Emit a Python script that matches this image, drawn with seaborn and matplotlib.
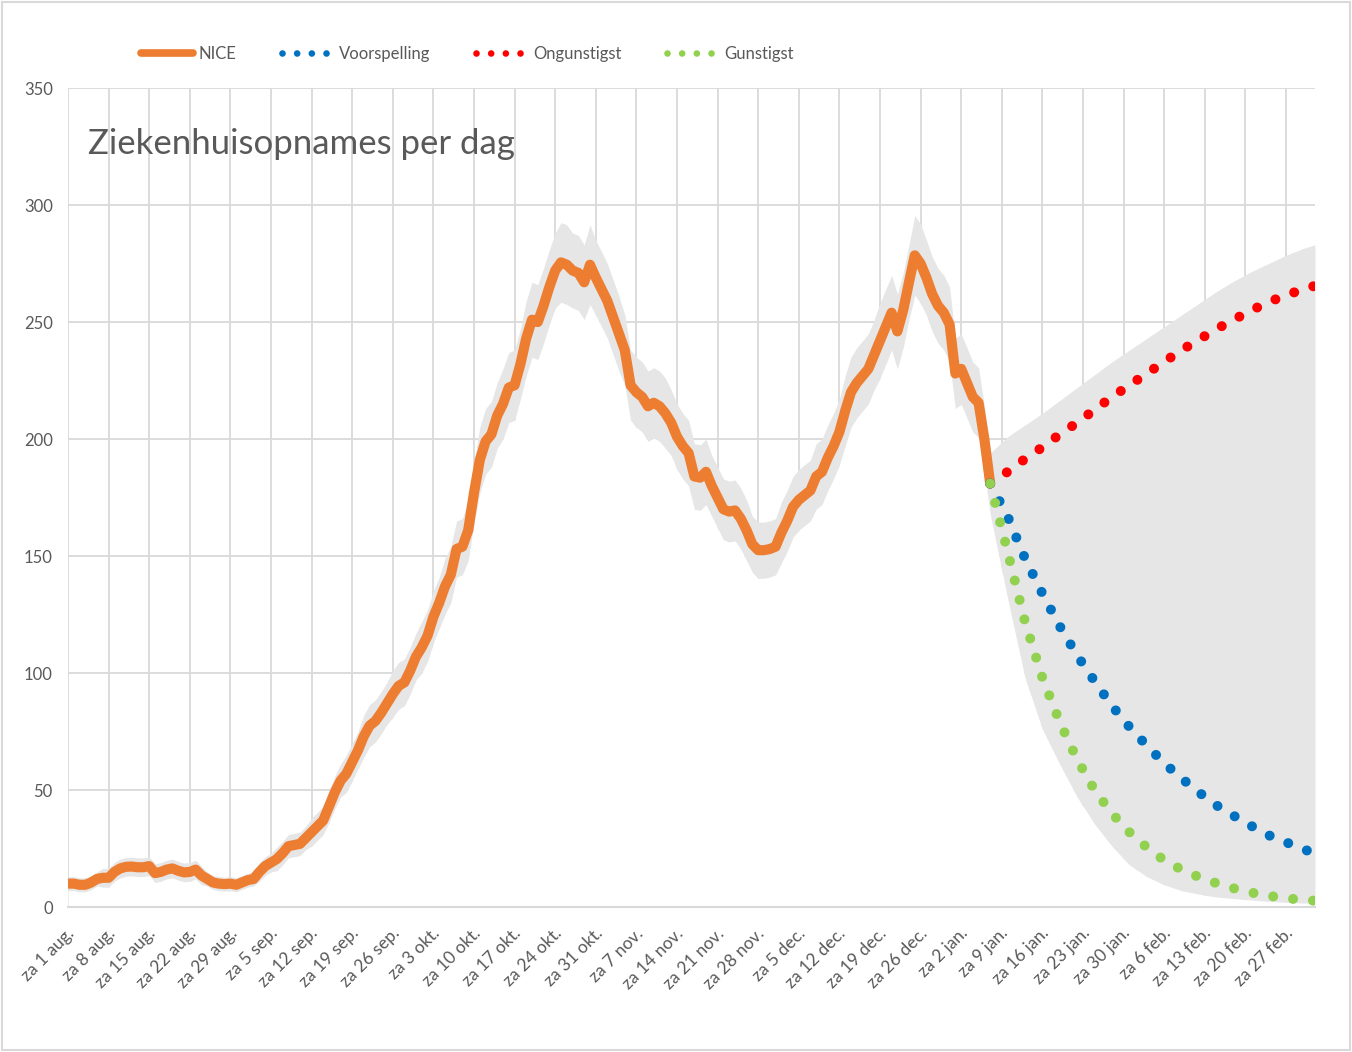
import numpy as np
import matplotlib.pyplot as plt
import matplotlib.transforms as mtransforms
import seaborn as sns
from matplotlib.lines import Line2D
from matplotlib.patches import Rectangle

# Ziekenhuisopnames per dag (NICE), dag 0 = za 1 aug. 2020
nice = [
    10, 10, 9.5, 9.5, 10.5, 12, 12.5, 12.5, 15, 16.5,
    17.2, 17.3, 17, 17, 17.5, 14.5, 15, 16, 16.5, 15.5,
    14.8, 15, 16, 13.5, 12, 10.5, 10, 9.8, 10, 9.5,
    10.5, 11.5, 12, 15, 17.5, 19, 20.5, 23, 26, 26.5,
    27, 29.5, 32, 34.5, 37, 43, 49, 54, 57, 62,
    67, 73, 77.5, 79.5, 83, 87, 91, 94.5, 96, 101,
    107, 111, 116, 124, 130, 137, 142, 153, 154, 161,
    177, 191, 199, 202, 210, 215, 222, 223, 232, 243,
    251, 250, 257, 265, 272, 275.5, 274.5, 272, 271, 267,
    274.5, 269, 264, 259, 252, 245, 238, 223, 220, 218,
    214, 215.5, 214, 211, 207, 201, 197, 194, 184, 183.5,
    186, 180, 175, 170, 169, 169.5, 166, 161, 155, 152.5,
    152.5, 153, 154, 160, 165, 171, 174, 176, 178, 184,
    186, 192, 197, 203, 212, 220, 224, 227, 230, 236,
    242, 248, 254, 246, 255, 267, 278.5, 275, 269, 262,
    257, 254, 249, 228, 230, 224, 218, 215.5, 200, 181,
]

# halve breedte van de grijze band rond de NICE-lijn
nice_marge = [
    3, 3, 3, 3, 3, 3, 4, 4, 4, 4,
    4, 4, 4, 4, 4, 4, 4, 4, 4, 4,
    4, 4, 4, 4, 3, 3, 3, 3, 3, 3,
    3, 3, 3, 4, 4, 4, 5, 5, 5, 5,
    5, 5, 6, 6, 6, 7, 7, 7, 8, 8,
    8, 9, 9, 9, 9, 9, 10, 10, 10, 10,
    10, 11, 11, 11, 11, 12, 12, 12, 12, 13,
    13, 14, 14, 14, 14, 15, 15, 15, 15, 16,
    16, 16, 16, 16, 16, 17, 17, 16, 16, 16,
    17, 16, 16, 16, 16, 16, 15, 15, 15, 15,
    15, 15, 15, 15, 14, 14, 14, 14, 14, 14,
    14, 13, 13, 13, 13, 13, 13, 13, 12, 12,
    12, 12, 12, 13, 13, 13, 13, 13, 13, 14,
    14, 14, 14, 14, 15, 15, 15, 15, 15, 15,
    16, 16, 16, 16, 16, 16, 17, 17, 16, 16,
    16, 16, 16, 15, 15, 15, 15, 15, 14, 13,
]

# scenario's vanaf do 7 jan. (dag 159)
fc_dagen = [159, 162, 165, 168, 171, 174, 177, 180, 183, 186,
            189, 192, 195, 198, 201, 204, 207, 210, 213, 215]
voorspelling = [181, 167, 149, 134, 120, 107.5, 96.5, 86, 77, 69,
                61.5, 55, 49, 43.5, 39, 34.7, 30.7, 27.7, 24.7, 23]
ongunstigst = [181, 186, 191.5, 196.5, 202, 207, 212.5, 218, 223, 228,
               233, 238, 242.5, 247, 251, 255, 258.5, 261.5, 264, 265.5]
gunstigst = [181, 152, 122, 98, 79, 63, 50, 40, 32, 25.5,
             20, 16, 12.8, 10.2, 8, 6.2, 4.8, 3.8, 3, 2.7]
fc_onder = [168, 132, 98, 76, 61, 47, 35.5, 26, 18, 13,
            9.5, 7, 5.5, 4.3, 3.6, 3, 2.4, 2, 1.7, 1.6]
fc_boven = [194, 201, 206, 211, 216.5, 222, 227.5, 233, 238, 243,
            248, 253, 258, 263, 267.5, 271.5, 275, 278.5, 281.5, 283]

tick_labels = ["za 1 aug.", "za 8 aug.", "za 15 aug.", "za 22 aug.", "za 29 aug.",
               "za 5 sep.", "za 12 sep.", "za 19 sep.", "za 26 sep.", "za 3 okt.",
               "za 10 okt.", "za 17 okt.", "za 24 okt.", "za 31 okt.", "za 7 nov.",
               "za 14 nov.", "za 21 nov.", "za 28 nov.", "za 5 dec.", "za 12 dec.",
               "za 19 dec.", "za 26 dec.", "za 2 jan.", "za 9 jan.", "za 16 jan.",
               "za 23 jan.", "za 30 jan.", "za 6 feb.", "za 13 feb.", "za 20 feb.",
               "za 27 feb."]

ORANJE = '#ED7D31'
BLAUW = '#0070C0'
ROOD = '#FF0000'
GROEN = '#92D050'
TEKST = '#595959'
RASTER = '#d9d9d9'

sns.set_theme(style="white")
plt.rcParams['font.family'] = ['Lato', 'DejaVu Sans']

fig, ax = plt.subplots(figsize=(13.52, 10.52), dpi=100)
fig.subplots_adjust(left=0.0503, right=0.9726, bottom=0.1378, top=0.9163)

dagen = np.arange(len(nice))
nice_arr = np.array(nice)
marge = np.array(nice_marge)
band_x = np.concatenate([dagen, fc_dagen[1:]])
band_lo = np.concatenate([nice_arr - marge, fc_onder[1:]])
band_hi = np.concatenate([nice_arr + marge, fc_boven[1:]])

# witte vlak onder de band verbergt het raster, daarboven de grijze band
ax.fill_between(band_x, 0, band_lo, color='white', lw=0, zorder=1)
ax.fill_between(band_x, band_lo, band_hi, color='#e6e6e6', lw=0, zorder=1)

sns.lineplot(x=dagen, y=nice, ax=ax, color=ORANJE, lw=7.3, zorder=3,
             solid_capstyle='round', solid_joinstyle='round')
stip = (0, (0.001, 2))
sns.lineplot(x=fc_dagen, y=ongunstigst, ax=ax, color=ROOD, lw=7.2, zorder=4,
             linestyle=stip, dash_capstyle='round')
sns.lineplot(x=fc_dagen, y=voorspelling, ax=ax, color=BLAUW, lw=7.2, zorder=4,
             linestyle=stip, dash_capstyle='round')
sns.lineplot(x=fc_dagen, y=gunstigst, ax=ax, color=GROEN, lw=7.2, zorder=5,
             linestyle=stip, dash_capstyle='round')

ax.set_xlim(0, 215)
ax.set_ylim(0, 350)
ax.set_yticks(range(0, 351, 50))
ax.set_xticks(range(0, 211, 7))
ax.set_xticklabels(tick_labels, rotation=45, ha='right', va='center',
                   rotation_mode='anchor')
ax.tick_params(axis='both', colors=TEKST, length=0)
ax.tick_params(axis='y', pad=11, labelsize=12)
ax.tick_params(axis='x', pad=17, labelsize=12.5)
verschuif = mtransforms.ScaledTranslation(4 / 100, 0, fig.dpi_scale_trans)
for lbl in ax.get_xticklabels():
    lbl.set_transform(lbl.get_transform() + verschuif)
ax.set_xlabel('')
ax.set_ylabel('')

ax.set_axisbelow(True)
ax.grid(True, color=RASTER, lw=1.3)
for s in ['left', 'right', 'top']:
    ax.spines[s].set_visible(False)
ax.spines['bottom'].set_color(RASTER)
ax.spines['bottom'].set_linewidth(1.5)
ax.spines['bottom'].set_zorder(6)

fig.text(0.0651, 1 - 144 / 1052, 'Ziekenhuisopnames per dag', fontsize=25,
         color=TEKST, va='center', ha='left')

stip_leg = (0, (0.001, 2.2))
handles = [
    Line2D([], [], color=ORANJE, lw=5.5, solid_capstyle='round'),
    Line2D([], [], color=BLAUW, lw=4.8, linestyle=stip_leg, dash_capstyle='round'),
    Line2D([], [], color=ROOD, lw=4.8, linestyle=stip_leg, dash_capstyle='round'),
    Line2D([], [], color=GROEN, lw=4.8, linestyle=stip_leg, dash_capstyle='round'),
]
leg = fig.legend(handles, ['NICE', 'Voorspelling', 'Ongunstigst', 'Gunstigst'],
                 loc='center', bbox_to_anchor=(0.3458, 1 - 54 / 1052), ncol=4,
                 frameon=False, fontsize=12, handlelength=3.1,
                 handletextpad=0.35, columnspacing=2.7)
for t in leg.get_texts():
    t.set_color(TEKST)

fig.patches.append(Rectangle((0.0015, 0.002), 0.997, 0.996, transform=fig.transFigure,
                             fill=False, edgecolor=RASTER, lw=1.5))

fig.savefig('out.png', dpi=100)
